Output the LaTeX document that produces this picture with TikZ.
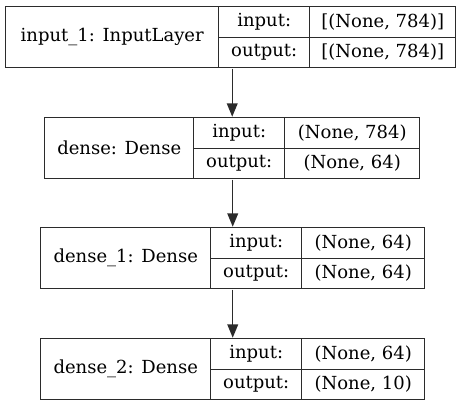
\documentclass[tikz,border=0pt]{standalone}
\usepackage{fontspec}
\setmainfont{DejaVu Serif}
\usetikzlibrary{arrows.meta,fit}
\definecolor{edge}{HTML}{2B2B2B}
\tikzset{
  cell/.style={draw=edge, line width=1.1pt, anchor=north west, inner sep=0pt,
    font=\fontsize{13.5}{15}\selectfont},
  layer/.style={inner sep=0pt},
  flow/.style={draw=edge, line width=1.1pt, -{Triangle[length=10pt,width=8pt]}},
}

\begin{document}
\begin{tikzpicture}[x=0.75pt, y=-0.75pt]
  \useasboundingbox (0,0) rectangle (464,405);
  % input_1
  \node[cell, minimum width=213*0.75pt, minimum height=61*0.75pt] (inname) at (5,6) {input\_1: InputLayer};
  \node[cell, minimum width=91*0.75pt, minimum height=30.5*0.75pt] (inin) at (218,6) {input:};
  \node[cell, minimum width=91*0.75pt, minimum height=30.5*0.75pt] (inout) at (218,36.5) {output:};
  \node[cell, minimum width=146*0.75pt, minimum height=30.5*0.75pt] (ininval) at (309,6) {[(None, 784)]};
  \node[cell, minimum width=146*0.75pt, minimum height=30.5*0.75pt] (inoutval) at (309,36.5) {[(None, 784)]};
  \node[layer, fit=(inname)(inoutval)] (inputlayer) {};

  % dense
  \node[cell, minimum width=149*0.75pt, minimum height=61*0.75pt] (dname) at (44,117) {dense: Dense};
  \node[cell, minimum width=91*0.75pt, minimum height=30.5*0.75pt] (din) at (193,117) {input:};
  \node[cell, minimum width=91*0.75pt, minimum height=30.5*0.75pt] (dout) at (193,147.5) {output:};
  \node[cell, minimum width=135*0.75pt, minimum height=30.5*0.75pt] (dinval) at (284,117) {(None, 784)};
  \node[cell, minimum width=135*0.75pt, minimum height=30.5*0.75pt] (doutval) at (284,147.5) {(None, 64)};
  \node[layer, fit=(dname)(doutval)] (dense) {};

  % dense_1
  \node[cell, minimum width=170*0.75pt, minimum height=61*0.75pt] (daname) at (40,227) {dense\_1: Dense};
  \node[cell, minimum width=91*0.75pt, minimum height=30.5*0.75pt] (dain) at (210,227) {input:};
  \node[cell, minimum width=91*0.75pt, minimum height=30.5*0.75pt] (daout) at (210,257.5) {output:};
  \node[cell, minimum width=123*0.75pt, minimum height=30.5*0.75pt] (dainval) at (301,227) {(None, 64)};
  \node[cell, minimum width=123*0.75pt, minimum height=30.5*0.75pt] (daoutval) at (301,257.5) {(None, 64)};
  \node[layer, fit=(daname)(daoutval)] (denseone) {};

  % dense_2
  \node[cell, minimum width=170*0.75pt, minimum height=61*0.75pt] (dbname) at (40,338) {dense\_2: Dense};
  \node[cell, minimum width=91*0.75pt, minimum height=30.5*0.75pt] (dbin) at (210,338) {input:};
  \node[cell, minimum width=91*0.75pt, minimum height=30.5*0.75pt] (dbout) at (210,368.5) {output:};
  \node[cell, minimum width=123*0.75pt, minimum height=30.5*0.75pt] (dbinval) at (301,338) {(None, 64)};
  \node[cell, minimum width=123*0.75pt, minimum height=30.5*0.75pt] (dboutval) at (301,368.5) {(None, 10)};
  \node[layer, fit=(dbname)(dboutval)] (densetwo) {};

  \draw[flow] (inputlayer.south -| dense.north) -- (dense.north);
  \draw[flow] (dense.south -| denseone.north) -- (denseone.north);
  \draw[flow] (denseone.south) -- (densetwo.north);
\end{tikzpicture}
\end{document}
